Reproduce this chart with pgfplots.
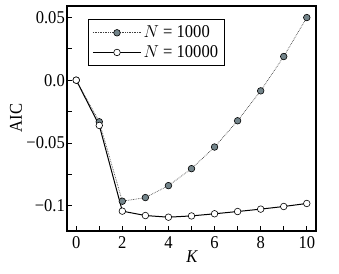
\documentclass[border=0pt]{standalone}
\usepackage{fontspec}
\setmainfont{Liberation Serif}[FakeStretch=0.92]
\usepackage{pgfplots}
\pgfplotsset{compat=1.18}
\usetikzlibrary{calc}
\definecolor{mgray}{RGB}{115,132,138}
\begin{document}
\fontsize{18}{21}\selectfont
\begin{tikzpicture}
\begin{axis}[
  name=ax,
  scale only axis,
  width=249pt, height=225pt,
  xmin=-0.4, xmax=10.4,
  ymin=-0.12, ymax=0.059,
  axis line style={line width=1.3pt},
  tick style={line width=1pt, black},
  tick align=inside,
  xtick pos=bottom, ytick pos=left,
  major tick length=5pt, minor tick length=5pt,
  xtick={0,2,4,6,8,10},
  minor xtick={1,3,5,7,9},
  ytick={-0.1,-0.05,0,0.05},
  yticklabels={−0.1,−0.05,0.0,0.05},
  minor ytick={-0.075,-0.025,0.025},
  /pgf/number format/assume math mode=true,
  ticklabel style={font=\fontsize{18}{21}\selectfont},
  yticklabel style={xshift=4pt},
  xticklabel style={yshift=1pt},
  xlabel={\itshape K},
  ylabel={AIC},
  label style={font=\fontsize{18}{21}\selectfont},
  xlabel style={at={(axis description cs:0.502,-0.115)}, anchor=center},
  ylabel style={at={(axis description cs:-0.205,0.502)}, anchor=center},
  legend style={at={(0.084,0.942)}, anchor=north west, draw=black, line width=0.8pt,
    font=\fontsize{18}{21}\selectfont, inner xsep=4pt, inner ysep=4pt, row sep=1pt},
  legend cell align=left,
  legend image code/.code={
    \draw[mark repeat=2,mark phase=2] plot coordinates {(0cm,0cm) (0.85cm,0cm) (1.7cm,0cm)};
  },
]
\addplot[densely dotted, line width=0.7pt, black!75, mark=*, mark size=3.3pt,
  mark options={solid, fill=mgray, draw=black, line width=0.6pt}]
  coordinates {(0,0) (1,-0.0331) (2,-0.0963) (3,-0.0934) (4,-0.0839) (5,-0.0704)
               (6,-0.0532) (7,-0.0323) (8,-0.0085) (9,0.0188) (10,0.0498)};
\addlegendentry{$N$ = 1000}
\addplot[solid, line width=1pt, black, mark=*, mark size=3.3pt,
  mark options={solid, fill=white, draw=black, line width=0.6pt}]
  coordinates {(0,0) (1,-0.036) (2,-0.1042) (3,-0.1077) (4,-0.109) (5,-0.108)
               (6,-0.1063) (7,-0.1045) (8,-0.1026) (9,-0.1005) (10,-0.0981)};
\addlegendentry{$N$ = 10000}
\end{axis}
\path[use as bounding box] ($(ax.south west)+(-67pt,-42pt)$) rectangle ($(ax.north east)+(23pt,6pt)$);
\end{tikzpicture}
\end{document}
